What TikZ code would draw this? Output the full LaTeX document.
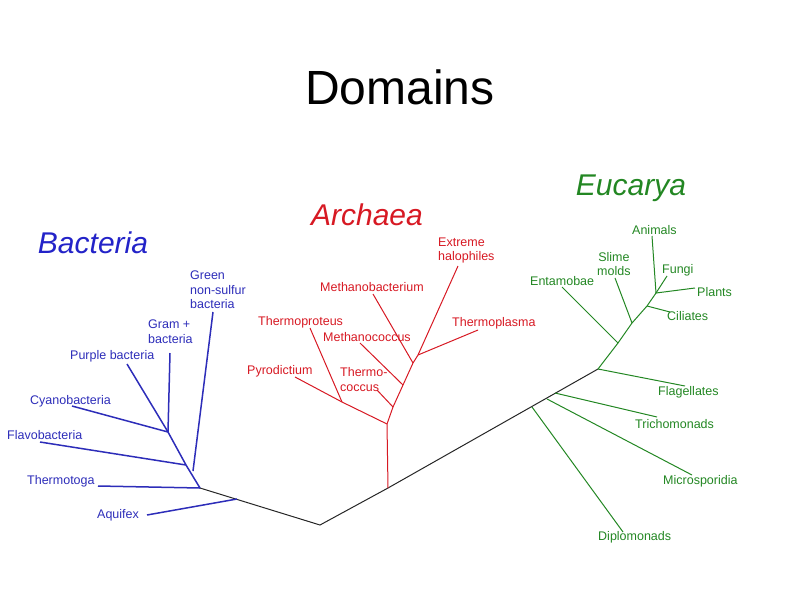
\documentclass[tikz,border=0pt]{standalone}
\usepackage{fontspec}
\setmainfont{Liberation Sans}
\definecolor{bactblue}{RGB}{35,35,200}
\definecolor{bactline}{RGB}{45,45,185}
\definecolor{archred}{RGB}{215,25,35}
\definecolor{eucgreen}{RGB}{35,135,35}
\tikzset{
    leaf/.style={inner sep=0pt, anchor=west, font=\fontsize{12.5}{14.5}\selectfont, align=left},
    domtitle/.style={inner sep=0pt, font=\fontsize{30}{30}\selectfont\itshape},
    branch/.style={line width=1pt},
}
\begin{document}
\begin{tikzpicture}[x=1pt, y=-1pt]
    \useasboundingbox (0,0) rectangle (800,600);

    \node[inner sep=0pt, font=\fontsize{48}{48}\selectfont] (title) at (400,87) {Domains};

    % root and the black backbone
    \coordinate (R) at (320,525);
    \coordinate (B0) at (200,488);
    \coordinate (Bq) at (237,499);
    \coordinate (A0) at (388,488);
    \coordinate (E0) at (598,369);
    \coordinate (Ed) at (532,407);
    \coordinate (Em) at (547,399);
    \coordinate (Et) at (555,393);

    \draw[branch, black!85] (B0)--(R)--(A0)--(E0);

    % Bacteria
    \node[domtitle, bactblue] (bacteria) at (93,243) {Bacteria};
    \begin{scope}[bactline]
        \coordinate (B1) at (168,432);
        \coordinate (B2) at (186,465);
        \node[leaf] (green) at (190,290) {Green\\non-sulfur\\bacteria};
        \node[leaf] (gram) at (148,331.5) {Gram +\\bacteria};
        \node[leaf] (purple) at (70,356) {Purple bacteria};
        \node[leaf] (cyano) at (30,401) {Cyanobacteria};
        \node[leaf] (flavo) at (7,435) {Flavobacteria};
        \node[leaf] (thermotoga) at (27,481) {Thermotoga};
        \node[leaf] (aquifex) at (97,515) {Aquifex};
        \coordinate (tgreen) at (213,312);
        \coordinate (tgram) at (170,353);
        \coordinate (tpurple) at (127,364);
        \coordinate (tcyano) at (72,406);
        \coordinate (tflavo) at (40,442);
        \coordinate (tthermotoga) at (98,486);
        \coordinate (taquifex) at (147,515);

        \draw[branch, line width=1.5pt] (tgreen)--(193,471);
        \draw[branch, line width=1.5pt] (tgram)--(B1);
        \draw[branch, line width=1.5pt] (tpurple)--(B1);
        \draw[branch, line width=1.5pt] (tcyano)--(B1);
        \draw[branch, line width=1.5pt] (B1)--(B2)--(B0);
        \draw[branch, line width=1.5pt] (tflavo)--(B2);
        \draw[branch, line width=1.5pt] (tthermotoga)--(B0);
        \draw[branch, line width=1.5pt] (taquifex)--(Bq);
    \end{scope}

    % Archaea
    \node[domtitle, archred] (archaea) at (367,215) {Archaea};
    \begin{scope}[archred]
        \coordinate (A1) at (387,424);
        \coordinate (A2) at (393,407);
        \coordinate (A3) at (403,385);
        \coordinate (A4) at (413,363);
        \coordinate (A5) at (418,355);
        \coordinate (Ap) at (342,402);
        \node[leaf] (halo) at (438,250.5) {Extreme\\halophiles};
        \node[leaf] (mbact) at (320,287) {Methanobacterium};
        \node[leaf] (tproteus) at (258,322) {Thermoproteus};
        \node[leaf] (mcoccus) at (323,337) {Methanococcus};
        \node[leaf] (tplasma) at (452,323) {Thermoplasma};
        \node[leaf] (pyro) at (247,371) {Pyrodictium};
        \node[leaf] (tcoccus) at (340,379.5) {Thermo-\\coccus};
        \coordinate (thalo) at (458,266);
        \coordinate (tmbact) at (373,294);
        \coordinate (ttproteus) at (310,328);
        \coordinate (tmcoccus) at (360,343);
        \coordinate (ttplasma) at (478,330);
        \coordinate (tpyro) at (295,377);
        \coordinate (ttcoccus) at (377,390);

        \draw[branch] (A0)--(A1)--(A2)--(A3)--(A4)--(A5)--(thalo);
        \draw[branch] (A1)--(Ap)--(tpyro);
        \draw[branch] (Ap)--(ttproteus);
        \draw[branch] (A2)--(ttcoccus);
        \draw[branch] (A3)--(tmcoccus);
        \draw[branch] (A4)--(tmbact);
        \draw[branch] (A5)--(ttplasma);
    \end{scope}

    % Eucarya
    \node[domtitle, eucgreen] (eucarya) at (631,188) {Eucarya};
    \begin{scope}[eucgreen]
        \coordinate (E1) at (618,343);
        \coordinate (E2) at (632,323);
        \coordinate (E3) at (647,306);
        \coordinate (E4) at (656,293);
        \node[leaf] (animals) at (632,230) {Animals};
        \node[leaf, align=center] (slime) at (597,264) {Slime\\molds};
        \node[leaf] (entamoebae) at (530,281) {Entamobae};
        \node[leaf] (fungi) at (662,270) {Fungi};
        \node[leaf] (plants) at (697,292) {Plants};
        \node[leaf] (ciliates) at (667,316) {Ciliates};
        \node[leaf] (flagellates) at (658,392) {Flagellates};
        \node[leaf] (tricho) at (635,424) {Trichomonads};
        \node[leaf] (micro) at (663,481) {Microsporidia};
        \node[leaf] (diplo) at (598,537) {Diplomonads};
        \coordinate (tanimals) at (652,236);
        \coordinate (tslime) at (615,278);
        \coordinate (tentamoebae) at (562,287);
        \coordinate (tfungi) at (667,276);
        \coordinate (tplants) at (695,288);
        \coordinate (tciliates) at (670,312);
        \coordinate (tflagellates) at (685,386);
        \coordinate (ttricho) at (657,417);
        \coordinate (tmicro) at (692,475);
        \coordinate (tdiplo) at (623,532);

        \draw[branch] (E0)--(E1)--(E2)--(E3)--(E4);
        \draw[branch] (E4)--(tanimals);
        \draw[branch] (E4)--(tfungi);
        \draw[branch] (E4)--(tplants);
        \draw[branch] (E3)--(tciliates);
        \draw[branch] (E2)--(tslime);
        \draw[branch] (E1)--(tentamoebae);
        \draw[branch] (E0)--(tflagellates);
        \draw[branch] (Et)--(ttricho);
        \draw[branch] (Em)--(tmicro);
        \draw[branch] (Ed)--(tdiplo);
    \end{scope}
\end{tikzpicture}
\end{document}
